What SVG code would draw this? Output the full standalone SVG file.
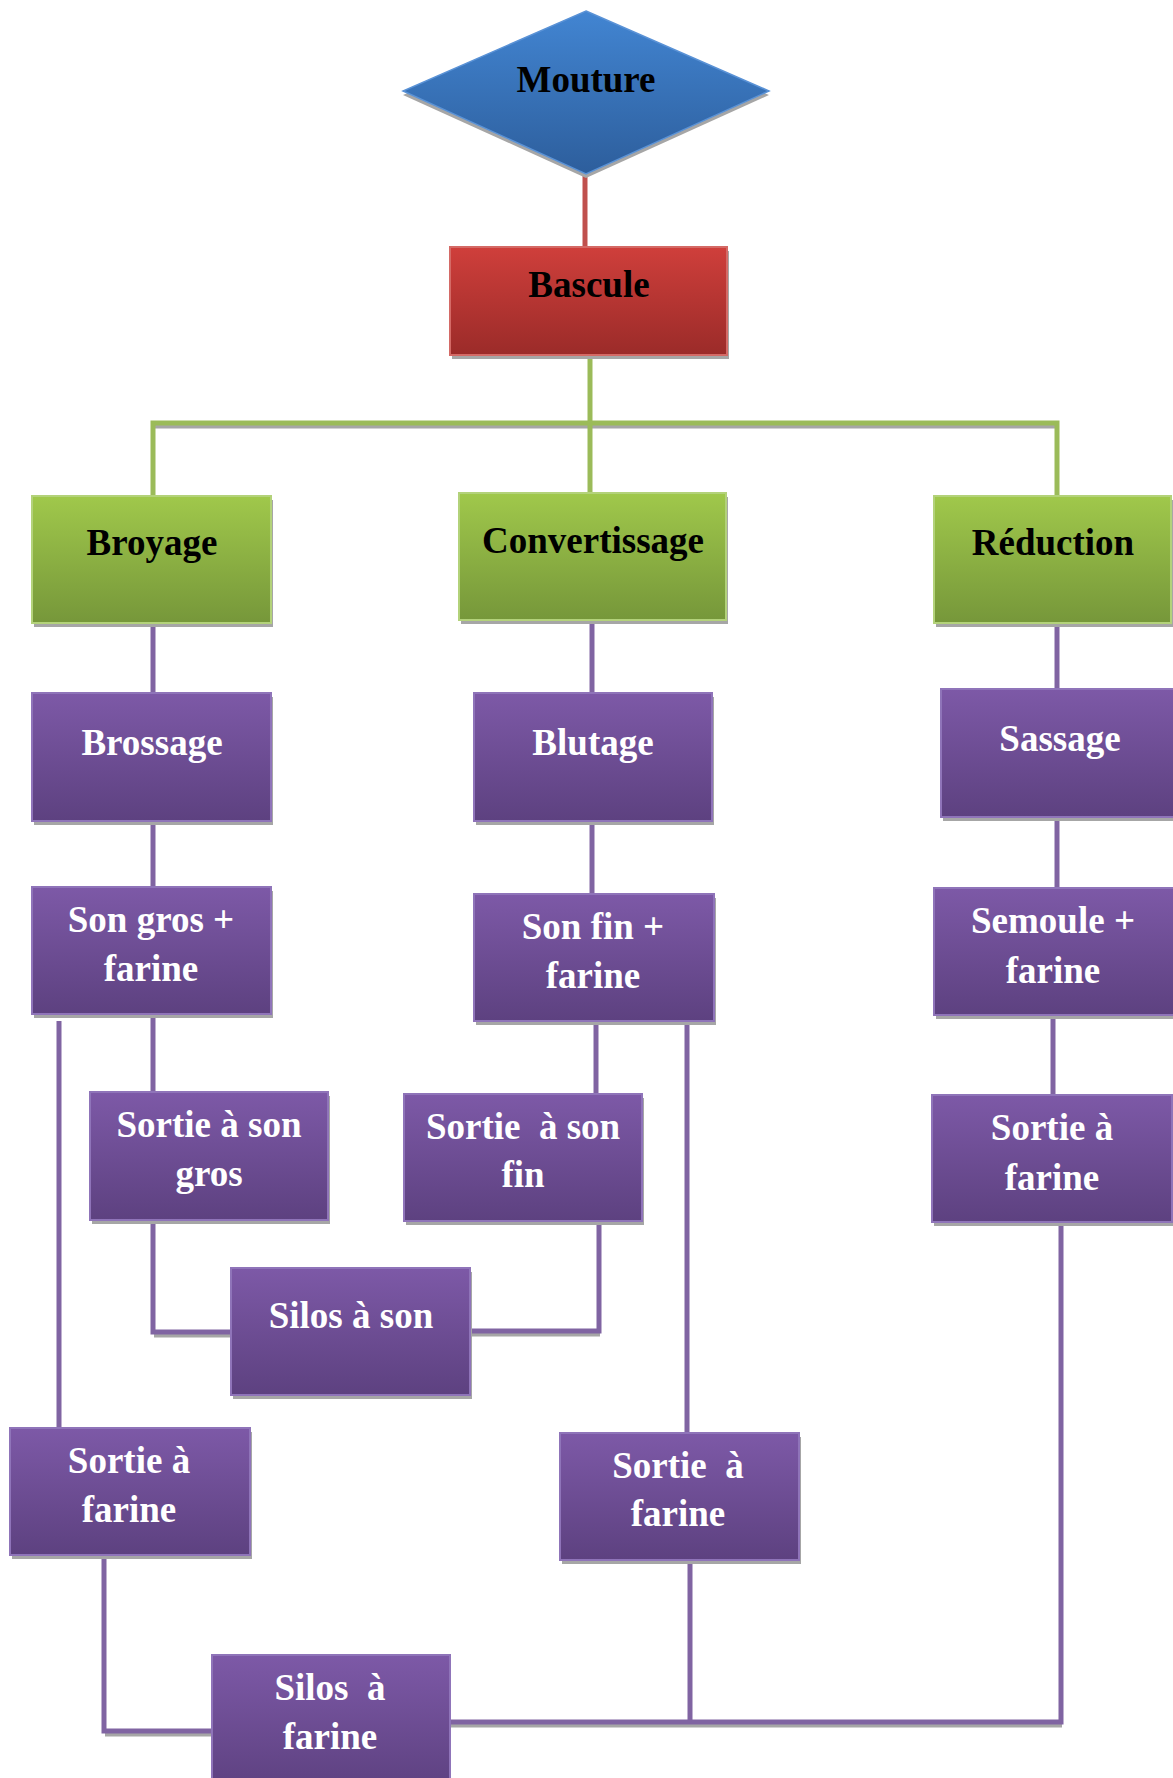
<svg xmlns="http://www.w3.org/2000/svg" width="1173" height="1778" viewBox="0 0 1173 1778">
  <defs>
    <linearGradient id="gBlue" x1="0" y1="0" x2="0" y2="1">
      <stop offset="0" stop-color="#4285d2"/>
      <stop offset="1" stop-color="#2d5e9c"/>
    </linearGradient>
    <linearGradient id="gRed" x1="0" y1="0" x2="0" y2="1">
      <stop offset="0" stop-color="#cf3f3b"/>
      <stop offset="1" stop-color="#9b2b29"/>
    </linearGradient>
    <linearGradient id="gGreen" x1="0" y1="0" x2="0" y2="1">
      <stop offset="0" stop-color="#a0c84b"/>
      <stop offset="1" stop-color="#76973a"/>
    </linearGradient>
    <linearGradient id="gPurple" x1="0" y1="0" x2="0" y2="1">
      <stop offset="0" stop-color="#7d59a7"/>
      <stop offset="1" stop-color="#5d4180"/>
    </linearGradient>
  </defs>
  <style>
    .shadow{fill:#a6a6a6}
    .box-blue{fill:url(#gBlue);stroke:#5a92d6;stroke-width:1.5}
    .box-red{fill:url(#gRed);stroke:#d46a66;stroke-width:2}
    .box-green{fill:url(#gGreen);stroke:#b3d27a;stroke-width:2}
    .box-purple{fill:url(#gPurple);stroke:#8f74b9;stroke-width:2}
    .lbl{font-family:"Liberation Serif","Times New Roman",serif;font-weight:bold;font-size:37px;text-anchor:middle}
    .dark{fill:#000}
    .light{fill:#fff}
    .conn{fill:none;stroke-width:5;stroke-linecap:butt;stroke-linejoin:miter}
    .c-red{stroke:#c0504d}
    .c-green{stroke:#9bbb59}
    .c-purple{stroke:#8064a2}
    .c-shadow{stroke:#a6a6a6}
  </style>
  <rect width="1173" height="1778" fill="#fff"/>

  <!-- connectors -->
  <g id="connectors">
    <g class="conn c-shadow" transform="translate(1,3)">
      <path d="M153 423 H1057"/>
      <path d="M153 1332 H231"/>
      <path d="M470 1331 H599"/>
      <path d="M450 1722 H1061"/>
      <path d="M104 1731 H212"/>
    </g>
    <path class="conn c-red" d="M585 174 V247"/>
    <g class="conn c-green">
      <path d="M590 355 V423"/>
      <path d="M153 496 V423 H1057 V496"/>
      <path d="M590 423 V493"/>
    </g>
    <g class="conn c-purple">
      <path d="M153 623 V693"/>
      <path d="M153 821 V887"/>
      <path d="M153 1014 V1092"/>
      <path d="M59 1021 V1428"/>
      <path d="M153 1220 V1332 H231"/>
      <path d="M470 1331 H599 V1221"/>
      <path d="M592 620 V693"/>
      <path d="M592 821 V894"/>
      <path d="M596 1021 V1094"/>
      <path d="M687 1021 V1433"/>
      <path d="M690 1560 V1722"/>
      <path d="M450 1722 H1061 V1222"/>
      <path d="M104 1555 V1731 H212"/>
      <path d="M1057 623 V689"/>
      <path d="M1057 817 V888"/>
      <path d="M1053 1015 V1095"/>
    </g>
  </g>

  <!-- top of the flow -->
  <g id="mouture">
    <polygon class="shadow" points="586,15 769,95 586,178 403,95"/>
    <polygon class="box-blue" points="586,11 769,91 586,174 403,91"/>
    <text class="lbl dark" x="586" y="92">Mouture</text>
  </g>
  <g id="bascule">
    <rect class="shadow" x="452" y="251" width="277" height="108"/>
    <rect class="box-red" x="450" y="247" width="277" height="108"/>
    <text class="lbl dark" x="589" y="297">Bascule</text>
  </g>

  <!-- main stages -->
  <g id="broyage">
    <rect class="shadow" x="34" y="500" width="239" height="127"/>
    <rect class="box-green" x="32" y="496" width="239" height="127"/>
    <text class="lbl dark" x="152" y="555">Broyage</text>
  </g>
  <g id="convertissage">
    <rect class="shadow" x="461" y="497" width="267" height="127"/>
    <rect class="box-green" x="459" y="493" width="267" height="127"/>
    <text class="lbl dark" x="593" y="553">Convertissage</text>
  </g>
  <g id="reduction">
    <rect class="shadow" x="936" y="500" width="237" height="127"/>
    <rect class="box-green" x="934" y="496" width="237" height="127"/>
    <text class="lbl dark" x="1053" y="555">Réduction</text>
  </g>

  <!-- second level -->
  <g id="brossage">
    <rect class="shadow" x="34" y="697" width="239" height="128"/>
    <rect class="box-purple" x="32" y="693" width="239" height="128"/>
    <text class="lbl light" x="152" y="755">Brossage</text>
  </g>
  <g id="blutage">
    <rect class="shadow" x="476" y="697" width="238" height="128"/>
    <rect class="box-purple" x="474" y="693" width="238" height="128"/>
    <text class="lbl light" x="593" y="755">Blutage</text>
  </g>
  <g id="sassage">
    <rect class="shadow" x="943" y="693" width="232" height="128"/>
    <rect class="box-purple" x="941" y="689" width="233" height="128"/>
    <text class="lbl light" x="1060" y="751">Sassage</text>
  </g>

  <!-- products -->
  <g id="son-gros-farine">
    <rect class="shadow" x="34" y="891" width="239" height="127"/>
    <rect class="box-purple" x="32" y="887" width="239" height="127"/>
    <text class="lbl light" x="151" y="932">Son gros +</text>
    <text class="lbl light" x="151" y="981">farine</text>
  </g>
  <g id="son-fin-farine">
    <rect class="shadow" x="476" y="898" width="240" height="127"/>
    <rect class="box-purple" x="474" y="894" width="240" height="127"/>
    <text class="lbl light" x="593" y="939">Son fin +</text>
    <text class="lbl light" x="593" y="988">farine</text>
  </g>
  <g id="semoule-farine">
    <rect class="shadow" x="936" y="892" width="239" height="127"/>
    <rect class="box-purple" x="934" y="888" width="240" height="127"/>
    <text class="lbl light" x="1053" y="933">Semoule +</text>
    <text class="lbl light" x="1053" y="983">farine</text>
  </g>

  <!-- outlets -->
  <g id="sortie-son-gros">
    <rect class="shadow" x="92" y="1096" width="238" height="128"/>
    <rect class="box-purple" x="90" y="1092" width="238" height="128"/>
    <text class="lbl light" x="209" y="1137">Sortie à son</text>
    <text class="lbl light" x="209" y="1186">gros</text>
  </g>
  <g id="sortie-son-fin">
    <rect class="shadow" x="406" y="1098" width="238" height="127"/>
    <rect class="box-purple" x="404" y="1094" width="238" height="127"/>
    <text class="lbl light" x="523" y="1139" xml:space="preserve">Sortie  à son</text>
    <text class="lbl light" x="523" y="1187">fin</text>
  </g>
  <g id="sortie-farine-reduction">
    <rect class="shadow" x="934" y="1099" width="240" height="127"/>
    <rect class="box-purple" x="932" y="1095" width="240" height="127"/>
    <text class="lbl light" x="1052" y="1140">Sortie à</text>
    <text class="lbl light" x="1052" y="1190">farine</text>
  </g>
  <g id="silos-son">
    <rect class="shadow" x="233" y="1272" width="239" height="127"/>
    <rect class="box-purple" x="231" y="1268" width="239" height="127"/>
    <text class="lbl light" x="351" y="1328">Silos à son</text>
  </g>
  <g id="sortie-farine-broyage">
    <rect class="shadow" x="12" y="1432" width="240" height="127"/>
    <rect class="box-purple" x="10" y="1428" width="240" height="127"/>
    <text class="lbl light" x="129" y="1473">Sortie à</text>
    <text class="lbl light" x="129" y="1522">farine</text>
  </g>
  <g id="sortie-farine-convertissage">
    <rect class="shadow" x="562" y="1437" width="239" height="127"/>
    <rect class="box-purple" x="560" y="1433" width="239" height="127"/>
    <text class="lbl light" x="678" y="1478" xml:space="preserve">Sortie  à</text>
    <text class="lbl light" x="678" y="1526">farine</text>
  </g>
  <g id="silos-farine">
    <rect class="box-purple" x="212" y="1655" width="238" height="135"/>
    <text class="lbl light" x="330" y="1700" xml:space="preserve">Silos  à</text>
    <text class="lbl light" x="330" y="1749">farine</text>
  </g>
</svg>
